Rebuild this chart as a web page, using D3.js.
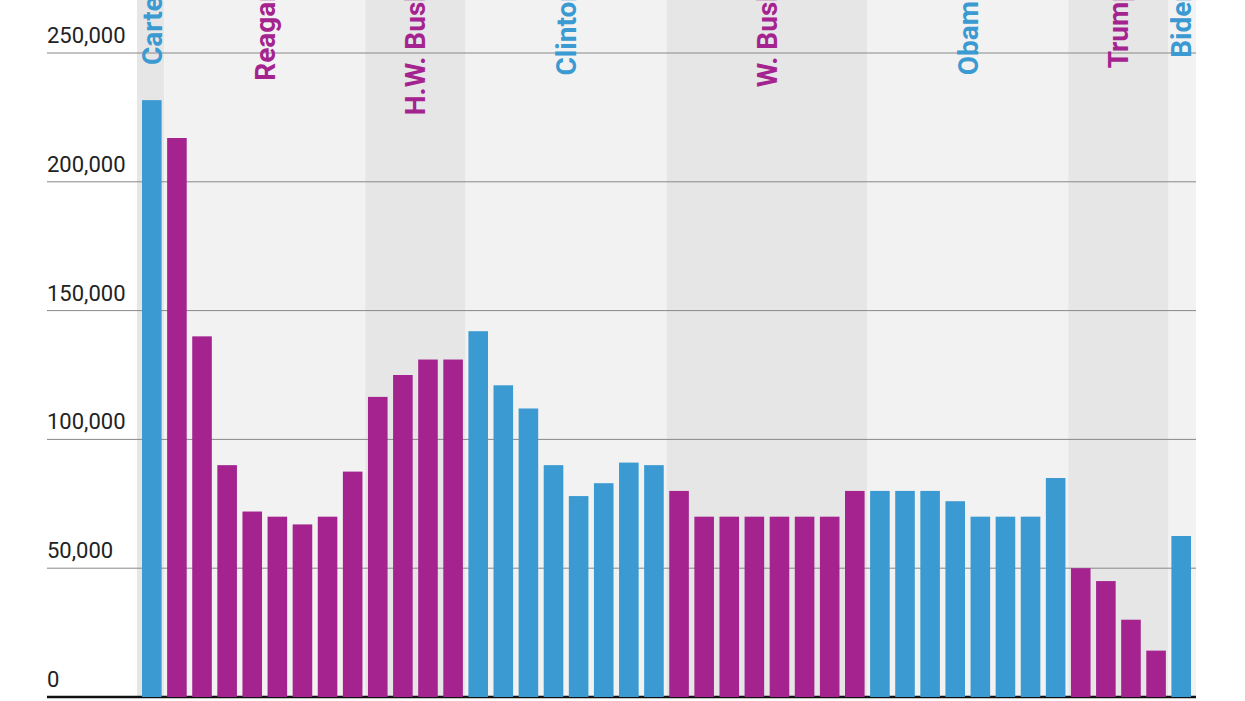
<!DOCTYPE html><html><head><meta charset="utf-8"><script src="https://d3js.org/d3.v7.min.js"></script>
<style>body{margin:0;background:#fff}svg{display:block}</style></head><body><svg width="1245" height="701"></svg>
<script>
const years=d3.range(1980,2022);
const values=[231700,217000,140000,90000,72000,70000,67000,70000,87500,116500,125000,131000,131000,142000,121000,112000,90000,78000,83000,91000,90000,80000,70000,70000,70000,70000,70000,70000,80000,80000,80000,80000,76000,70000,70000,70000,85000,50000,45000,30000,18000,62500];
const presidents=["Carter","Reagan","H.W. Bush","Clinton","W. Bush","Obama","Trump","Biden"];
const terms=[1,8,4,8,8,8,4,1];
const party=["D","R","R","D","R","D","R","D"];
const yTicks=[0,50000,100000,150000,200000,250000];
const svg=d3.select("svg");
const x=d3.scaleBand().domain(years).range([137,1196]).paddingInner(0.22).paddingOuter(0.2);
const y=d3.scaleLinear().domain([0,250000]).range([697,53]);
const col={D:"#3a9ad1",R:"#a4238f"};
const presOf=[];presidents.forEach((p,i)=>{for(let k=0;k<terms[i];k++)presOf.push(i);});
let start=0;const step=x.step();const off=x(years[0])-step*x.paddingInner()/2;
presidents.forEach((p,i)=>{
 const x0=start==0?137:off+start*step, x1=start+terms[i]==42?1196:off+(start+terms[i])*step;
 svg.append("rect").attr("x",x0).attr("y",0).attr("width",x1-x0).attr("height",697).attr("fill",i%2==0?"#e6e6e6":"#f2f2f2");
 start+=terms[i];
});
svg.selectAll(".g").data(yTicks).join("line").attr("x1",47).attr("x2",1196).attr("y1",d=>y(d)).attr("y2",d=>y(d)).attr("stroke",d=>d==0?"#111":"#888").attr("stroke-width",d=>d==0?2.5:1);
svg.selectAll(".t").data(yTicks).join("text").attr("x",47).attr("y",d=>y(d)-10).text(d=>d3.format(",")(d)).attr("font-family","Roboto").attr("font-size",22).attr("fill","#222");
svg.selectAll(".b").data(values).join("rect").attr("x",(d,i)=>x(years[i])).attr("width",x.bandwidth()).attr("y",d=>y(d)).attr("height",d=>697-y(d)).attr("fill",(d,i)=>col[party[presOf[i]]]);
start=0;
presidents.forEach((p,i)=>{
 const cx=off+(start+terms[i]/2)*step+10;
 svg.append("text").attr("transform",`translate(${cx},-14) rotate(-90)`).attr("text-anchor","end").text(p).attr("font-family","Roboto").attr("font-weight","bold").attr("font-size",28).attr("fill",col[party[i]]);
 start+=terms[i];
});
</script></body></html>
